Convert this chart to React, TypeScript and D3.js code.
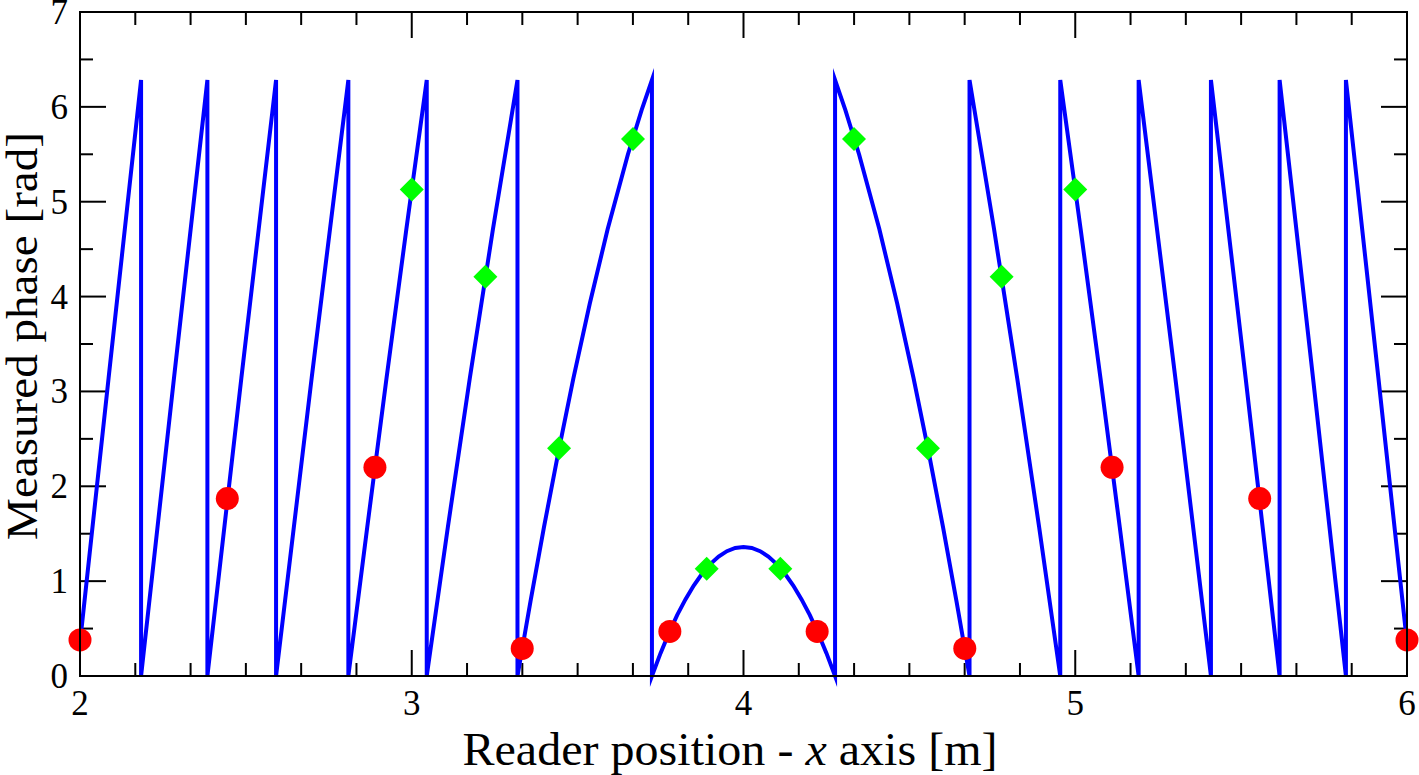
import React from 'react';
import * as d3 from 'd3';

// wrapped phase curve (vertical jumps repeat an x)
const phaseX = [
  2.0, 2.0862, 2.1841, 2.1841, 2.2833, 2.384, 2.384, 2.4864, 2.591, 2.591,
  2.6983, 2.8089, 2.8089, 2.8659, 2.924, 2.9838, 3.0452, 3.0452, 3.1089, 3.1751,
  3.2448, 3.3187, 3.3187, 3.3578, 3.3987, 3.4417, 3.4875, 3.5367, 3.5906, 3.6515,
  3.6931, 3.724, 3.724, 3.75, 3.775, 3.8, 3.825, 3.85, 3.875, 3.9,
  3.925, 3.95, 3.975, 4.0, 4.025, 4.05, 4.075, 4.1, 4.125, 4.15,
  4.175, 4.2, 4.225, 4.25, 4.276, 4.276, 4.3069, 4.3485, 4.4094, 4.4633,
  4.5125, 4.5583, 4.6013, 4.6422, 4.6813, 4.6813, 4.7552, 4.8249, 4.8911, 4.9548,
  4.9548, 5.0162, 5.076, 5.1341, 5.1911, 5.1911, 5.3017, 5.409, 5.409, 5.5136,
  5.616, 5.616, 5.7167, 5.8159, 5.8159, 5.9138, 6.0,
];
const phaseY = [
  0.35, 3.142, 6.283, 0, 3.142, 6.283, 0, 3.142, 6.283, 0,
  3.142, 6.283, 0, 1.571, 3.142, 4.712, 6.283, 0, 1.571, 3.142,
  4.712, 6.283, 0, 0.785, 1.571, 2.356, 3.142, 3.927, 4.712, 5.498,
  5.969, 6.283, 0, 0.241, 0.451, 0.641, 0.808, 0.954, 1.078, 1.18,
  1.259, 1.316, 1.35, 1.361, 1.35, 1.316, 1.259, 1.18, 1.078, 0.954,
  0.808, 0.641, 0.451, 0.241, 0, 6.283, 5.969, 5.498, 4.712, 3.927,
  3.142, 2.356, 1.571, 0.785, 0, 6.283, 4.712, 3.142, 1.571, 0,
  6.283, 4.712, 3.142, 1.571, 0, 6.283, 3.142, 0, 6.283, 3.142,
  0, 6.283, 3.142, 0, 6.283, 3.142, 0.35,
];

const redX = [2.0, 2.444, 2.889, 3.333, 3.778, 4.222, 4.667, 5.111, 5.556, 6.0];
const redY = [0.38, 1.87, 2.2, 0.29, 0.47, 0.47, 0.29, 2.2, 1.87, 0.38];

const greenX = [3.0, 3.222, 3.444, 3.667, 3.889, 4.111, 4.333, 4.556, 4.778, 5.0];
const greenY = [5.13, 4.21, 2.4, 5.66, 1.13, 1.13, 5.66, 2.4, 4.21, 5.13];

const xTicks = [2, 3, 4, 5, 6];
const yTicks = [0, 1, 2, 3, 4, 5, 6, 7];

const W = 1419;
const H = 775;
const m = { left: 80, right: 12, top: 12, bottom: 99 };
const font = '"Liberation Serif", "DejaVu Serif", serif';

export default function App() {
  const x = d3.scaleLinear().domain([2, 6]).range([m.left, W - m.right]);
  const y = d3.scaleLinear().domain([0, 7]).range([H - m.bottom, m.top]);
  const [x0, x1] = x.range();
  const [y0, y1] = y.range();

  const line = d3
    .line<number>()
    .x((_, i) => x(phaseX[i]))
    .y((d) => y(d));

  const xMinor = d3.range(2, 6, 1 / 6).filter((v) => Math.abs(v - Math.round(v)) > 1e-6);
  const yMinor = d3.range(0.5, 7, 1);

  const major = 26;
  const minor = 13;
  const s = 12; // diamond half diagonal

  return (
    <svg width={W} height={H} style={{ position: 'absolute', left: 0, top: 0, background: '#fff' }}>
      <rect x={0} y={0} width={W} height={H} fill="#fff" />

      {/* ticks, all four sides, pointing inward */}
      <g stroke="#000" strokeWidth={2}>
        {xTicks.map((t) => (
          <g key={'xt' + t}>
            <line x1={x(t)} x2={x(t)} y1={y0} y2={y0 - major} />
            <line x1={x(t)} x2={x(t)} y1={y1} y2={y1 + major} />
          </g>
        ))}
        {xMinor.map((t, i) => (
          <g key={'xm' + i}>
            <line x1={x(t)} x2={x(t)} y1={y0} y2={y0 - minor} />
            <line x1={x(t)} x2={x(t)} y1={y1} y2={y1 + minor} />
          </g>
        ))}
        {yTicks.map((t) => (
          <g key={'yt' + t}>
            <line x1={x0} x2={x0 + major} y1={y(t)} y2={y(t)} />
            <line x1={x1} x2={x1 - major} y1={y(t)} y2={y(t)} />
          </g>
        ))}
        {yMinor.map((t, i) => (
          <g key={'ym' + i}>
            <line x1={x0} x2={x0 + minor} y1={y(t)} y2={y(t)} />
            <line x1={x1} x2={x1 - minor} y1={y(t)} y2={y(t)} />
          </g>
        ))}
      </g>

      <path
        d={line(phaseY) || ''}
        fill="none"
        stroke="#0000ff"
        strokeWidth={4}
        strokeMiterlimit={8}
      />

      {greenX.map((gx, i) => {
        const cx = x(gx);
        const cy = y(greenY[i]);
        return (
          <path
            key={'g' + i}
            d={`M${cx - s},${cy}L${cx},${cy - s}L${cx + s},${cy}L${cx},${cy + s}Z`}
            fill="#00ff00"
          />
        );
      })}
      {redX.map((rx, i) => (
        <circle key={'r' + i} cx={x(rx)} cy={y(redY[i])} r={11.5} fill="#ff0000" />
      ))}

      <rect x={x0} y={y1} width={x1 - x0} height={y0 - y1} fill="none" stroke="#000" strokeWidth={2} />

      <g fontFamily={font} fill="#000">
        {xTicks.map((t) => (
          <text key={'xl' + t} x={x(t)} y={y0 + 39} textAnchor="middle" fontSize={35}>
            {t}
          </text>
        ))}
        {yTicks.map((t) => (
          <text key={'yl' + t} x={68} y={y(t) + 12} textAnchor="end" fontSize={35}>
            {t}
          </text>
        ))}
        <text
          x={730}
          y={765}
          textAnchor="middle"
          fontSize={46}
          textLength={535}
          lengthAdjust="spacingAndGlyphs"
        >
          Reader position - <tspan fontStyle="italic">x</tspan> axis [m]
        </text>
        <text
          transform={`translate(37,336) rotate(-90)`}
          textAnchor="middle"
          fontSize={44}
          textLength={408}
          lengthAdjust="spacingAndGlyphs"
        >
          Measured phase [rad]
        </text>
      </g>
    </svg>
  );
}
